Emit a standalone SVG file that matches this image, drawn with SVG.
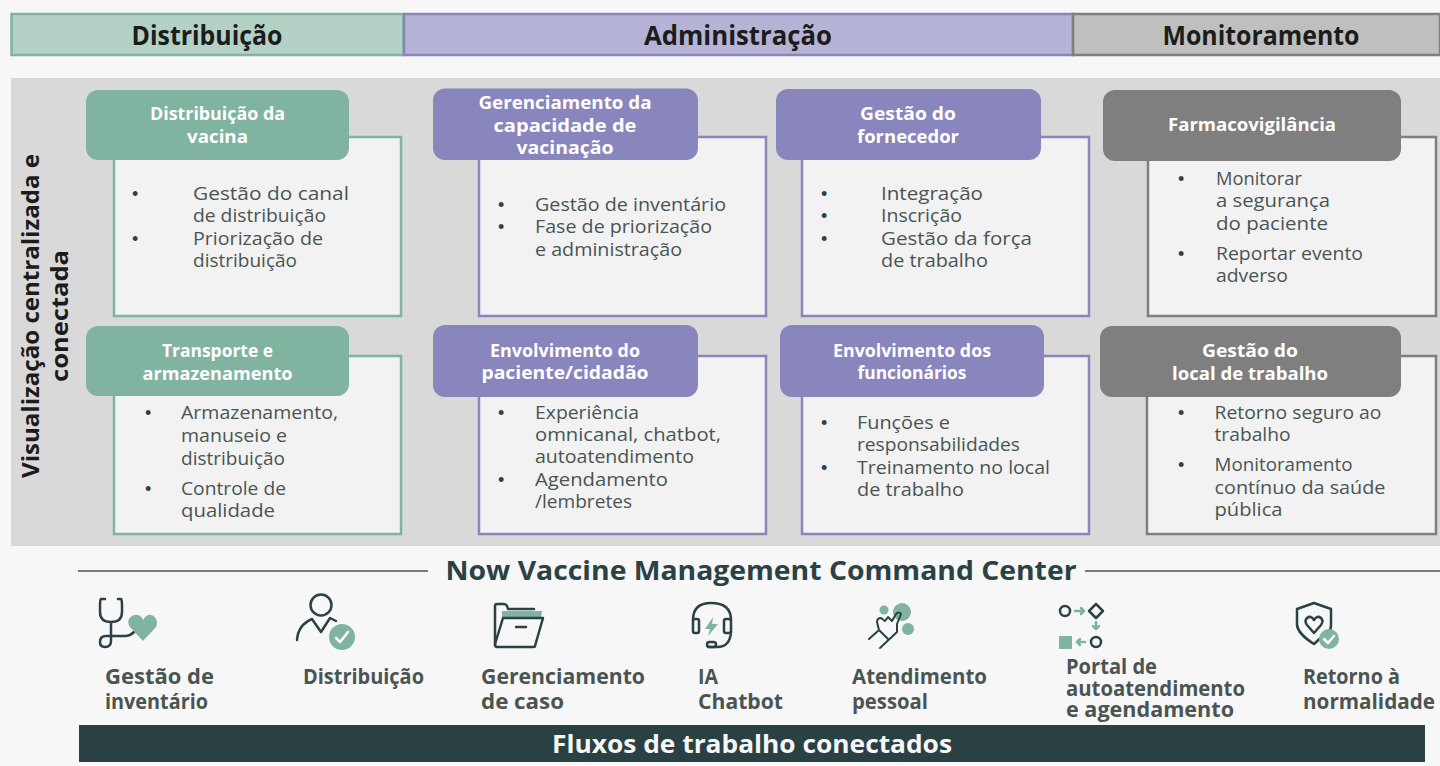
<svg xmlns="http://www.w3.org/2000/svg" width="1440" height="766" viewBox="0 0 1440 766">
<style>
text{font-family:"Open Sans","Liberation Sans",sans-serif}
.hd{font-size:26px;font-weight:700;fill:#1c1c1c;text-anchor:middle}
.t{font-size:18px;font-weight:700;fill:#fff;text-anchor:middle}
.b{font-size:18px;fill:#4a5552}
.bl{font-size:18px;fill:#2b4245;font-family:"Liberation Sans",sans-serif}
.card{fill:#f2f2f2;stroke-width:2.5}
.g .card{stroke:#80b3a0}.p .card{stroke:#8985bd}.y .card{stroke:#7f7f7f}
.g .tb{fill:#80b3a0}.p .tb{fill:#8985bd}.y .tb{fill:#7f7f7f}
.lb{font-size:21px;font-weight:700;fill:#4a5552}
.ln{fill:none;stroke:#2b4245;stroke-width:2.5;stroke-linecap:round;stroke-linejoin:round}
.lt{fill:none;stroke:#2b4245;stroke-width:2;stroke-linecap:round;stroke-linejoin:round}
.gf{fill:#80b3a0}
.gs{fill:none;stroke:#80b3a0;stroke-width:2.5;stroke-linecap:round;stroke-linejoin:round}
.ck{fill:none;stroke:#fff;stroke-width:2.5;stroke-linecap:round;stroke-linejoin:round}
</style>
<rect width="1440" height="766" fill="#f7f7f7"/>
<rect x="11" y="78" width="1429" height="468" fill="#d9d9d9"/>
<g id="band-distribuicao"><rect x="11.500" y="14" width="392" height="41" fill="#b3d2c5" stroke="#80b3a0" stroke-width="2.500"/><text class="hd" x="207" y="45" textLength="151" lengthAdjust="spacingAndGlyphs">Distribuição</text></g>
<g id="band-administracao"><rect x="404" y="14" width="669" height="41" fill="#b5b4d6" stroke="#8985bd" stroke-width="2.500"/><text class="hd" x="738" y="45" textLength="188" lengthAdjust="spacingAndGlyphs">Administração</text></g>
<g id="band-monitoramento"><rect x="1073" y="14" width="367" height="41" fill="#bfbfbf" stroke="#7f7f7f" stroke-width="2.500"/><text class="hd" x="1261" y="45" textLength="197" lengthAdjust="spacingAndGlyphs">Monitoramento</text></g>
<text transform="translate(39,316) rotate(-90)" font-size="23" font-weight="700" fill="#1c1c1c" text-anchor="middle" textLength="324" lengthAdjust="spacingAndGlyphs">Visualização centralizada e</text>
<text transform="translate(68,316) rotate(-90)" font-size="23" font-weight="700" fill="#1c1c1c" text-anchor="middle" textLength="132" lengthAdjust="spacingAndGlyphs">conectada</text>

<g id="n1" class="g"><rect class="card" x="114" y="137" width="287" height="179"/><rect class="tb" x="86" y="90" width="263" height="70" rx="12"/>
<text class="t" x="217.500" y="120" textLength="135" lengthAdjust="spacingAndGlyphs">Distribuição da</text><text class="t" x="217.500" y="143" textLength="61" lengthAdjust="spacingAndGlyphs">vacina</text>
<text class="bl" x="132" y="200">•</text><text class="b" x="193" y="200" textLength="156" lengthAdjust="spacingAndGlyphs">Gestão do canal</text><text class="b" x="193" y="222" textLength="133" lengthAdjust="spacingAndGlyphs">de distribuição</text><text class="bl" x="132" y="245">•</text><text class="b" x="193" y="245" textLength="130" lengthAdjust="spacingAndGlyphs">Priorização de</text><text class="b" x="193" y="267" textLength="104" lengthAdjust="spacingAndGlyphs">distribuição</text></g>
<g id="n2" class="g"><rect class="card" x="114" y="356" width="287" height="178"/><rect class="tb" x="86" y="326" width="263" height="70" rx="12"/>
<text class="t" x="217.500" y="357" textLength="111" lengthAdjust="spacingAndGlyphs">Transporte e</text><text class="t" x="217.500" y="380" textLength="150" lengthAdjust="spacingAndGlyphs">armazenamento</text>
<text class="bl" x="145" y="419">•</text><text class="b" x="181" y="419" textLength="157" lengthAdjust="spacingAndGlyphs">Armazenamento,</text><text class="b" x="181" y="442" textLength="106" lengthAdjust="spacingAndGlyphs">manuseio e</text><text class="b" x="181" y="465" textLength="104" lengthAdjust="spacingAndGlyphs">distribuição</text><text class="bl" x="145" y="495">•</text><text class="b" x="181" y="495" textLength="105" lengthAdjust="spacingAndGlyphs">Controle de</text><text class="b" x="181" y="517" textLength="94" lengthAdjust="spacingAndGlyphs">qualidade</text></g>
<g id="n3" class="p"><rect class="card" x="479" y="137" width="287" height="179"/><rect class="tb" x="433" y="88.500" width="265" height="71.500" rx="12"/>
<text class="t" x="565" y="109" textLength="173" lengthAdjust="spacingAndGlyphs">Gerenciamento da</text><text class="t" x="565" y="132" textLength="143" lengthAdjust="spacingAndGlyphs">capacidade de</text><text class="t" x="565" y="154" textLength="97" lengthAdjust="spacingAndGlyphs">vacinação</text>
<text class="bl" x="498" y="211">•</text><text class="b" x="535" y="211" textLength="191" lengthAdjust="spacingAndGlyphs">Gestão de inventário</text><text class="bl" x="498" y="233">•</text><text class="b" x="535" y="233" textLength="177" lengthAdjust="spacingAndGlyphs">Fase de priorização</text><text class="b" x="535" y="256" textLength="147" lengthAdjust="spacingAndGlyphs">e administração</text></g>
<g id="n4" class="p"><rect class="card" x="479" y="356" width="287" height="178"/><rect class="tb" x="433" y="325" width="265" height="72" rx="12"/>
<text class="t" x="565" y="357" textLength="150" lengthAdjust="spacingAndGlyphs">Envolvimento do</text><text class="t" x="565" y="379" textLength="167" lengthAdjust="spacingAndGlyphs">paciente/cidadão</text>
<text class="bl" x="498" y="419">•</text><text class="b" x="535" y="419" textLength="104" lengthAdjust="spacingAndGlyphs">Experiência</text><text class="b" x="535" y="441" textLength="186" lengthAdjust="spacingAndGlyphs">omnicanal, chatbot,</text><text class="b" x="535" y="463" textLength="159" lengthAdjust="spacingAndGlyphs">autoatendimento</text><text class="bl" x="498" y="486">•</text><text class="b" x="535" y="486" textLength="133" lengthAdjust="spacingAndGlyphs">Agendamento</text><text class="b" x="535" y="508" textLength="97" lengthAdjust="spacingAndGlyphs">/lembretes</text></g>
<g id="n5" class="p"><rect class="card" x="802" y="137" width="287" height="179"/><rect class="tb" x="776" y="89" width="265" height="71" rx="12"/>
<text class="t" x="908" y="120" textLength="96" lengthAdjust="spacingAndGlyphs">Gestão do</text><text class="t" x="908" y="143" textLength="102" lengthAdjust="spacingAndGlyphs">fornecedor</text>
<text class="bl" x="821" y="200">•</text><text class="b" x="881" y="200" textLength="102" lengthAdjust="spacingAndGlyphs">Integração</text><text class="bl" x="821" y="222">•</text><text class="b" x="881" y="222" textLength="81" lengthAdjust="spacingAndGlyphs">Inscrição</text><text class="bl" x="821" y="245">•</text><text class="b" x="881" y="245" textLength="151" lengthAdjust="spacingAndGlyphs">Gestão da força</text><text class="b" x="881" y="267" textLength="107" lengthAdjust="spacingAndGlyphs">de trabalho</text></g>
<g id="n6" class="p"><rect class="card" x="802" y="356" width="287" height="178"/><rect class="tb" x="780" y="325" width="264" height="72" rx="12"/>
<text class="t" x="912" y="357" textLength="158" lengthAdjust="spacingAndGlyphs">Envolvimento dos</text><text class="t" x="912" y="379" textLength="109" lengthAdjust="spacingAndGlyphs">funcionários</text>
<text class="bl" x="821" y="429">•</text><text class="b" x="857" y="429" textLength="93" lengthAdjust="spacingAndGlyphs">Funções e</text><text class="b" x="857" y="451" textLength="163" lengthAdjust="spacingAndGlyphs">responsabilidades</text><text class="bl" x="821" y="474">•</text><text class="b" x="857" y="474" textLength="193" lengthAdjust="spacingAndGlyphs">Treinamento no local</text><text class="b" x="857" y="496" textLength="107" lengthAdjust="spacingAndGlyphs">de trabalho</text></g>
<g id="n7" class="y"><rect class="card" x="1148" y="137" width="288" height="179"/><rect class="tb" x="1103" y="90" width="298" height="71" rx="12"/>
<text class="t" x="1252" y="131" textLength="168" lengthAdjust="spacingAndGlyphs">Farmacovigilância</text>
<text class="bl" x="1178" y="185">•</text><text class="b" x="1216" y="185" textLength="86" lengthAdjust="spacingAndGlyphs">Monitorar</text><text class="b" x="1216" y="207" textLength="114" lengthAdjust="spacingAndGlyphs">a segurança</text><text class="b" x="1216" y="230" textLength="112" lengthAdjust="spacingAndGlyphs">do paciente</text><text class="bl" x="1178" y="260">•</text><text class="b" x="1216" y="260" textLength="147" lengthAdjust="spacingAndGlyphs">Reportar evento</text><text class="b" x="1216" y="282" textLength="72" lengthAdjust="spacingAndGlyphs">adverso</text></g>
<g id="n8" class="y"><rect class="card" x="1147" y="356" width="289" height="178"/><rect class="tb" x="1100" y="326" width="301" height="71" rx="12"/>
<text class="t" x="1250" y="357" textLength="96" lengthAdjust="spacingAndGlyphs">Gestão do</text><text class="t" x="1250" y="380" textLength="156" lengthAdjust="spacingAndGlyphs">local de trabalho</text>
<text class="bl" x="1178" y="419">•</text><text class="b" x="1214.500" y="419" textLength="167" lengthAdjust="spacingAndGlyphs">Retorno seguro ao</text><text class="b" x="1214.500" y="441" textLength="76" lengthAdjust="spacingAndGlyphs">trabalho</text><text class="bl" x="1178" y="471">•</text><text class="b" x="1214.500" y="471" textLength="138" lengthAdjust="spacingAndGlyphs">Monitoramento</text><text class="b" x="1214.500" y="494" textLength="171" lengthAdjust="spacingAndGlyphs">contínuo da saúde</text><text class="b" x="1214.500" y="516" textLength="68" lengthAdjust="spacingAndGlyphs">pública</text></g>

<g id="connectors"><path d="M78 571H428M1085 571H1440" fill="none" stroke="#4a5552" stroke-width="1.500"/></g>
<text x="761" y="580" font-size="27" font-weight="700" fill="#2b4245" text-anchor="middle" textLength="631" lengthAdjust="spacingAndGlyphs">Now Vaccine Management Command Center</text>

<g id="i1"><path class="ln" d="M105 599H101Q100 600 100 606V612Q100 622 111 622Q122 622 122 612V606Q122 600 121 599H118M111 622V641Q111 647 105 647Q100 647 100 642Q100 636 106 636H125Q130 636 134 632"/><path class="gf" d="M143 641L130 627Q127 622 129 619Q133 614 138 615Q142 616 143 620Q145 616 148 615Q153 614 156 619Q158 622 156 627Z"/>
<text class="lb" x="105" y="684" textLength="109" lengthAdjust="spacingAndGlyphs">Gestão de</text><text class="lb" x="105" y="709" textLength="103" lengthAdjust="spacingAndGlyphs">inventário</text></g>
<g id="i2"><circle class="ln" cx="321" cy="605" r="10.500"/><path class="ln" d="M297 640Q298 625 312 619L321 632L330 618L336 621"/><circle class="gf" cx="342" cy="637" r="13"/><path class="ck" d="M336 638L340 642L348 632"/>
<text class="lb" x="303" y="684" textLength="121" lengthAdjust="spacingAndGlyphs">Distribuição</text></g>
<g id="i3"><path class="gf" d="M502 611H542L541 618H502Z"/><path class="ln" d="M495 645V606Q495 604 497 604H504Q507 604 508 609H534"/><path class="ln" d="M495 644L503 618H543L535 646Q535 647 533 647H497Q495 647 495 644Z"/><path class="ln" d="M516 627H526"/>
<text class="lb" x="481" y="684" textLength="164" lengthAdjust="spacingAndGlyphs">Gerenciamento</text><text class="lb" x="481" y="709" textLength="83" lengthAdjust="spacingAndGlyphs">de caso</text></g>
<g id="i4"><path class="ln" d="M693 620Q693 603 711 603Q731 603 731 620"/><rect class="ln" x="693" y="619" width="6" height="14" rx="2"/><rect class="ln" x="724" y="619" width="7" height="14" rx="2"/><path class="ln" d="M731 632Q730 647 717 647H708"/><rect class="ln" x="707" y="642" width="9" height="5" rx="2.500"/><path class="gf" d="M713 617L705 629H710L708 636L718 624H712Z"/>
<text class="lb" x="698" y="684" textLength="20" lengthAdjust="spacingAndGlyphs">IA</text><text class="lb" x="698" y="709" textLength="85" lengthAdjust="spacingAndGlyphs">Chatbot</text></g>
<g id="i5"><circle class="gf" cx="902" cy="612" r="9"/><circle class="gf" cx="884" cy="610" r="4.500"/><circle class="gf" cx="908" cy="629" r="6"/><path class="lt" d="M869 639L879 630L877 622Q877 618 881 618L885 621L888 617L892 621L896 614Q899 611 901 614L897 624L897 632L880 648M879 630L888 639"/>
<text class="lb" x="852" y="684" textLength="135" lengthAdjust="spacingAndGlyphs">Atendimento</text><text class="lb" x="852" y="709" textLength="76" lengthAdjust="spacingAndGlyphs">pessoal</text></g>
<g id="i6"><circle class="ln" cx="1065" cy="611" r="5"/><path class="gs" d="M1075 611H1084M1081 608L1084 611L1081 614M1096 622V629M1093 626L1096 629L1099 626M1085 642H1077M1080 639L1077 642L1080 645"/><path class="ln" d="M1096 604L1103 611L1096 618L1089 611Z"/><rect class="gf" x="1059" y="636" width="13" height="13" rx="1"/><circle class="ln" cx="1096" cy="642" r="5"/>
<text class="lb" x="1066" y="674" textLength="91" lengthAdjust="spacingAndGlyphs">Portal de</text><text class="lb" x="1066" y="696" textLength="179" lengthAdjust="spacingAndGlyphs">autoatendimento</text><text class="lb" x="1066" y="717" textLength="168" lengthAdjust="spacingAndGlyphs">e agendamento</text></g>
<g id="i7"><path class="ln" d="M1297 609L1314 603L1331 609V625Q1331 632 1325 634L1314 644Q1298 634 1297 625Z"/><path class="ln" d="M1314 633L1307 625Q1304 621 1307 618Q1311 615 1314 620Q1317 615 1321 618Q1324 621 1321 625Z"/><circle class="gf" cx="1329" cy="639" r="10"/><path class="ck" d="M1324 639L1328 643L1334 636"/>
<text class="lb" x="1303" y="684" textLength="97" lengthAdjust="spacingAndGlyphs">Retorno à</text><text class="lb" x="1303" y="709" textLength="132" lengthAdjust="spacingAndGlyphs">normalidade</text></g>

<g id="bar"><rect x="79" y="725" width="1346" height="37" fill="#294143"/><text x="752" y="753" font-size="25" font-weight="700" fill="#f7f7f7" text-anchor="middle" textLength="400" lengthAdjust="spacingAndGlyphs">Fluxos de trabalho conectados</text></g>
</svg>
